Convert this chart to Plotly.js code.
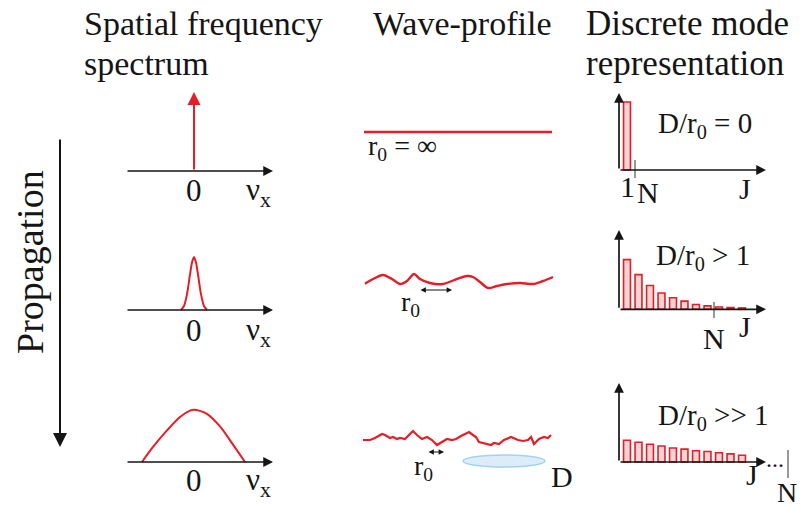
<!DOCTYPE html>
<html>
<head>
<meta charset="utf-8">
<script src="https://cdn.plot.ly/plotly-3.0.1.min.js"></script>
<style>html,body{margin:0;padding:0;background:#fff;}#chart{width:803px;height:507px;}</style>
</head>
<body>
<div id="chart"></div>
<script>
// ---------- DATA ----------
// Spatial frequency spectra (nu_x in arbitrary units, amplitude normalised)
const deltaPos = [0];
const deltaAmp = [1];
const narrowNu  = [-1.3, -1.0, -0.7, -0.4, -0.2, 0, 0.2, 0.4, 0.7, 1.0, 1.3];
const narrowAmp = [0, 0.05, 0.2, 0.45, 0.6, 0.67, 0.6, 0.45, 0.2, 0.05, 0];
const wideNu  = [-5.2, -4.1, -2.7, -1.4, -0.4, 0, 0.5, 1.3, 2.6, 3.9, 5.1];
const wideAmp = [0, 0.19, 0.40, 0.57, 0.65, 0.66, 0.65, 0.61, 0.45, 0.22, 0];

// Wave-profiles (position, phase deviation)
const flatPos = [0, 188];
const flatDev = [0, 0];
const smoothPos = [1, 9, 19, 28, 36, 43, 50, 56, 66, 79, 93, 103, 109, 116, 124, 133, 143, 156, 169, 179, 189];
const smoothDev = [-1.7, 3, 7, 3, -2, 1, 8, 3, -1, -2, 3, 6, 5, 0, -6, -4, -2, -1, -2, 1, 5];
const roughPos = [-1, 6, 11, 18, 21, 26, 29, 33, 36, 41, 46, 49, 53, 58, 63, 68, 73, 78, 83, 88, 92, 97, 102, 105, 109, 112, 115, 122, 127, 130, 135, 140, 147, 154, 159, 164, 167, 170, 175, 180, 184, 187];
const roughDev = [0, 0, 2, 6, 5, 2, 3, 1, 2, 1, 6, 9, 5, 1, 3, 0, -5, -2, 1, 0, 1, 4, 6, 8, 5, 3, -2, -4, -5, -3, -4, 0, 3, 0, -1, 0, 3, -4, 1, 3, 2, 5];

// Discrete mode representation (mode index J, weight)
const modes0 = [1];
const weights0 = [1.0];
const modes1 = [1, 2, 3, 4, 5, 6, 7, 8, 9, 10, 11];
const weights1 = [0.73, 0.51, 0.35, 0.24, 0.17, 0.12, 0.07, 0.05, 0.034, 0.025, 0.02];
const modes2 = [1, 2, 3, 4, 5, 6, 7, 8, 9, 10, 11];
const weights2 = [0.32, 0.29, 0.26, 0.235, 0.205, 0.19, 0.165, 0.155, 0.135, 0.12, 0.10];

// Labels
const columnTitles = [["Spatial frequency", "spectrum"], ["Wave-profile"], ["Discrete mode", "representation"]];
const caseLabels = ["D/r<sub>0</sub> = 0", "D/r<sub>0</sub> > 1", "D/r<sub>0</sub> >> 1"];

// ---------- LAYOUT HELPERS ----------
const W = 803, H = 507;
const RED = '#e41e26', INK = '#151515';
const FONT = 'Liberation Serif, Times New Roman, serif';
const panels = [
  {L:110, R:290, T:78,  B:205, ox:194,   oy:171,   sx:10,   sy:79},
  {L:110, R:290, T:240, B:345, ox:194,   oy:310,   sx:10,   sy:79},
  {L:110, R:290, T:395, B:497, ox:194,   oy:462,   sx:10,   sy:79},
  {L:350, R:570, T:100, B:170, ox:364,   oy:132,   sx:1,    sy:1},
  {L:350, R:570, T:255, B:320, ox:364,   oy:282,   sx:1,    sy:1},
  {L:350, R:585, T:415, B:495, ox:364,   oy:440,   sx:1,    sy:1},
  {L:600, R:802, T:85,  B:200, ox:615.5, oy:170,   sx:11.5, sy:68},
  {L:600, R:802, T:222, B:345, ox:615.5, oy:309.3, sx:11.5, sy:68},
  {L:600, R:802, T:378, B:502, ox:615.5, oy:462,   sx:11.5, sy:68}
];
const xr = i => i === 1 ? 'x' : 'x' + i;
const yr = i => i === 1 ? 'y' : 'y' + i;
const layout = {
  width: W, height: H, margin: {l:0, r:0, t:0, b:0},
  paper_bgcolor: '#fff', plot_bgcolor: 'rgba(0,0,0,0)',
  showlegend: false, annotations: [], shapes: [],
  font: {family: FONT, color: INK}
};
panels.forEach((p, k) => {
  const i = k + 1;
  const xa = {domain:[p.L/W, p.R/W], range:[(p.L-p.ox)/p.sx, (p.R-p.ox)/p.sx], visible:false, fixedrange:true, anchor: yr(i)};
  const ya = {domain:[1-p.B/H, 1-p.T/H], range:[(p.oy-p.B)/p.sy, (p.oy-p.T)/p.sy], visible:false, fixedrange:true, anchor: xr(i)};
  layout[i === 1 ? 'xaxis' : 'xaxis' + i] = xa;
  layout[i === 1 ? 'yaxis' : 'yaxis' + i] = ya;
});
const toX = (i, px) => (px - panels[i-1].ox) / panels[i-1].sx;
const toY = (i, py) => (panels[i-1].oy - py) / panels[i-1].sy;

function arrow(i, x0, y0, x1, y1, opt) {
  opt = opt || {};
  layout.annotations.push(Object.assign({
    xref: xr(i), yref: yr(i), axref: xr(i), ayref: yr(i),
    x: x1, y: y1, ax: x0, ay: y0, text: '', showarrow: true,
    arrowhead: 2, arrowsize: 1.15, arrowwidth: 1.7, arrowcolor: INK, standoff: 0
  }, opt));
}
function label(px, py, text, size, opt) {
  layout.annotations.push(Object.assign({
    xref: 'paper', yref: 'paper', x: px/W, y: 1-py/H, text: text, showarrow: false,
    font: {family: FONT, size: size || 28, color: INK}, xanchor: 'center', yanchor: 'middle'
  }, opt || {}));
}
function tick(i, px, pyTop, pyBot) {
  layout.shapes.push({type:'line', xref: xr(i), yref: yr(i),
    x0: toX(i, px), x1: toX(i, px), y0: toY(i, pyTop), y1: toY(i, pyBot),
    line: {color: '#333', width: 1}});
}

// ---------- TRACES ----------
const traces = [];
const line = (i, x, y, shape, w) => traces.push({type:'scatter', mode:'lines', x:x, y:y, xaxis:xr(i), yaxis:yr(i),
  line:{color:RED, width:w || 2, shape: shape || 'linear', smoothing: 0.8}, hoverinfo:'skip'});
const bars = (i, x, y) => traces.push({type:'bar', x:x, y:y, xaxis:xr(i), yaxis:yr(i), width:0.6,
  marker:{color:'rgba(248,196,198,0.75)', line:{color:RED, width:1.6}}, hoverinfo:'skip'});

// Spectra
[1,2,3].forEach(i => arrow(i, toX(i,126), 0, toX(i,273), 0));
deltaPos.forEach((p, k) => arrow(1, p, 0, p, deltaAmp[k], {arrowcolor: RED, arrowwidth: 2, arrowsize: 1.3}));
line(2, narrowNu, narrowAmp, 'spline');
line(3, wideNu, wideAmp, 'spline');

// Wave profiles
line(4, flatPos, flatDev, 'linear', 2.4);
line(5, smoothPos, smoothDev, 'spline', 2.4);
line(6, roughPos, roughDev, 'linear', 2.2);
layout.shapes.push({type:'circle', xref:xr(6), yref:yr(6), x0: toX(6,463), x1: toX(6,545), y0: toY(6,467), y1: toY(6,455),
  fillcolor:'#dcedf9', line:{color:'#9fd4f0', width:1.5}, layer:'below'});
arrow(5, toX(5,419), toY(5,290), toX(5,452), toY(5,290), {arrowside:'end+start', arrowhead:2, startarrowhead:2, arrowsize:0.9, startarrowsize:0.9, arrowwidth:1.2});
arrow(6, toX(6,427), toY(6,452), toX(6,444), toY(6,452), {arrowside:'end+start', arrowhead:2, startarrowhead:2, arrowsize:0.9, startarrowsize:0.9, arrowwidth:1.2});

// Discrete modes
bars(7, modes0, weights0);
bars(8, modes1, weights1);
bars(9, modes2, weights2);
[[7,170,93],[8,309.3,230],[9,462,383]].forEach(([i, base, top]) => {
  arrow(i, toX(i,619), toY(i,base), toX(i,619), toY(i,top));
  arrow(i, toX(i,619), toY(i,base), toX(i,766), toY(i,base));
});
tick(7, 635, 160, 178);
tick(8, 714, 302, 318);
tick(9, 788, 450, 478);

// ---------- TEXT ----------
label(82, 23, columnTitles[0][0], 34, {xanchor:'left'});
label(82, 64, columnTitles[0][1], 34, {xanchor:'left'});
label(371, 23, columnTitles[1][0], 34, {xanchor:'left'});
label(584, 23, columnTitles[2][0], 35, {xanchor:'left'});
label(584, 64, columnTitles[2][1], 35, {xanchor:'left'});

label(30, 262, 'Propagation', 38, {textangle:-90});
layout.annotations.push({xref:'paper', yref:'paper', x:60/W, y:1-447/H, ax:0, ay:-309, axref:'pixel', ayref:'pixel',
  text:'', showarrow:true, arrowhead:2, arrowsize:1.4, arrowwidth:2, arrowcolor:INK, standoff:0});

[[190,0],[330,1],[480,2]].forEach(([py]) => {
  label(194, py, '0', 31);
  label(258, py + 2, '\u03bd<sub>x</sub>', 31);
});

label(366, 148, 'r<sub>0</sub> = \u221e', 28, {xanchor:'left'});
label(410, 303, 'r<sub>0</sub>', 28);
label(423, 467, 'r<sub>0</sub>', 28);
label(562, 476, 'D', 30);

label(705, 125, caseLabels[0], 29);
label(627, 186, '1', 30);
label(648, 193, 'N', 30);
label(745, 188, 'J', 30);

label(703, 257, caseLabels[1], 29);
label(714, 338, 'N', 30);
label(745, 326, 'J', 30);

label(713, 417, caseLabels[2], 29);
label(775, 459, '...', 24);
label(787, 492, 'N', 28);
label(752, 474, 'J', 30);

Plotly.newPlot('chart', traces, layout, {staticPlot: true, displayModeBar: false});
</script>
</body>
</html>
